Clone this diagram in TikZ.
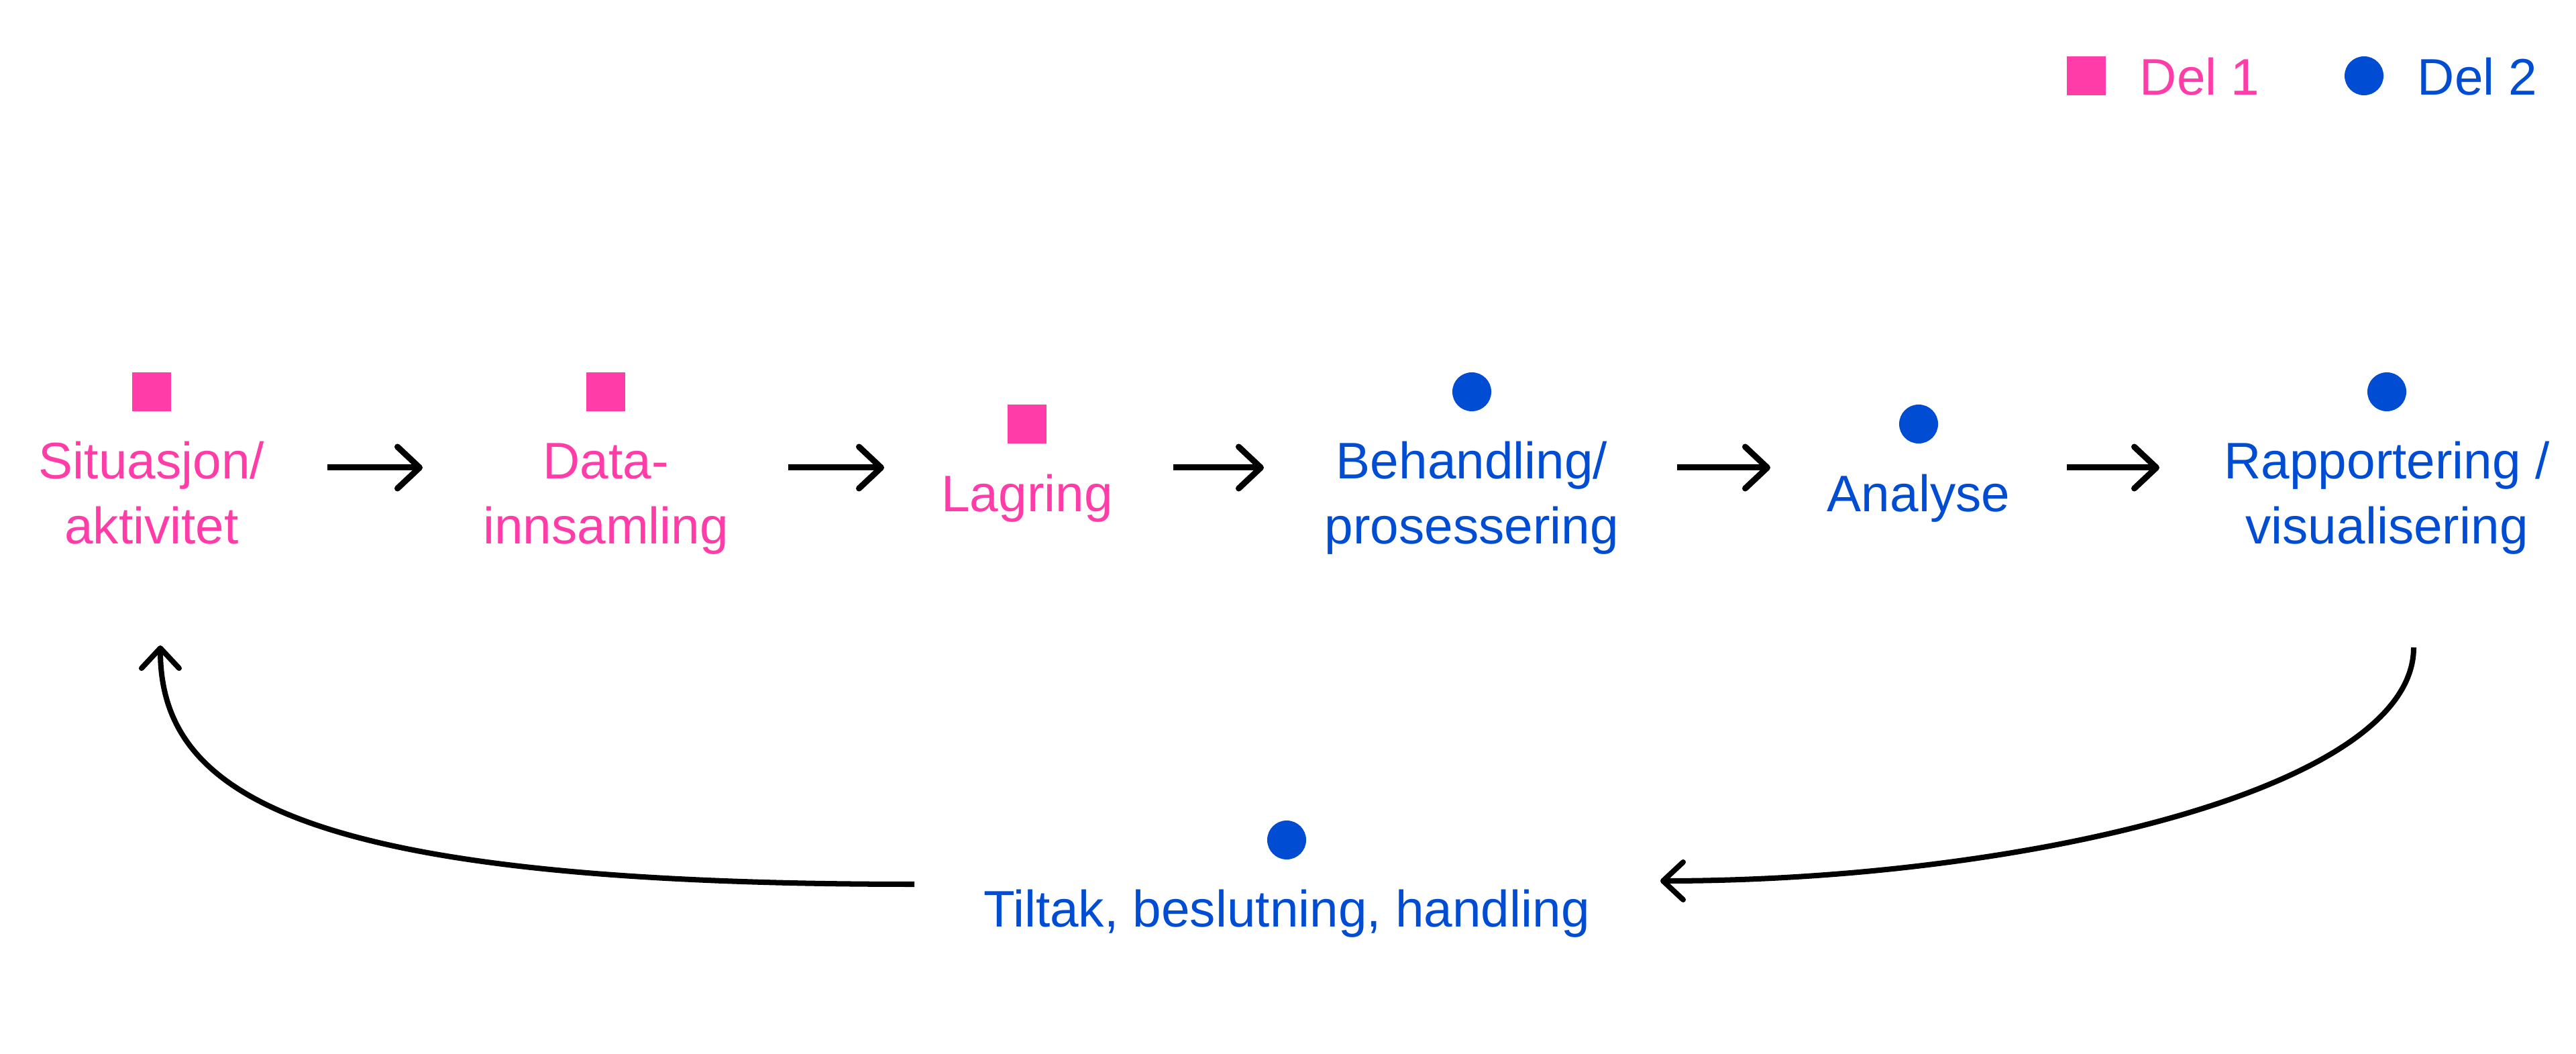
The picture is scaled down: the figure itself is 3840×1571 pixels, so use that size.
\documentclass[tikz,border=0pt]{standalone}
\usepackage{fontspec}
\setmainfont{Liberation Sans}
\usetikzlibrary{arrows.meta}
\definecolor{delpink}{HTML}{FF3CA8}
\definecolor{delblue}{HTML}{004CD3}
\begin{document}
\begin{tikzpicture}[x=0.01cm,y=-0.01cm,
  sq/.style={rectangle,fill=delpink,draw=none,minimum size=0.58cm,inner sep=0pt},
  dot/.style={circle,fill=delblue,draw=none,minimum size=0.58cm,inner sep=0pt},
  lbl/.style={font=\fontsize{21.77}{27.6}\selectfont,align=center,inner sep=0pt,anchor=north},
  pinklbl/.style={lbl,text=delpink},
  bluelbl/.style={lbl,text=delblue},
  legtxt/.style={font=\fontsize{21.77}{27.6}\selectfont,inner sep=0pt,anchor=base west},
  flow/.style={line width=2.56pt,-{Straight Barb[length=0.33cm,width=0.62cm,round]}},
  cycle/.style={line width=2.28pt,-{Straight Barb[length=0.30cm,width=0.56cm,round]}},
]
\useasboundingbox (0,0) rectangle (3840,1571);

% legend
\node[sq] (leg1) at (3110,113) {};
\node[legtxt,text=delpink] (legt1) at (3189,142) {Del 1};
\node[dot] (leg2) at (3524,113) {};
\node[legtxt,text=delblue] (legt2) at (3603,142) {Del 2};

% markers
\node[sq] (m1) at (226,584) {};
\node[sq] (m2) at (903,584) {};
\node[sq] (m3) at (1531,632) {};
\node[dot] (m4) at (2194,584) {};
\node[dot] (m5) at (2860,632) {};
\node[dot] (m6) at (3558,584) {};
\node[dot] (m7) at (1918,1252) {};

% labels
\node[pinklbl] (l1) at (226,645) {\strut Situasjon/\\\strut aktivitet};
\node[pinklbl] (l2) at (903,645) {\strut Data-\\\strut innsamling};
\node[pinklbl] (l3) at (1531,694) {\strut Lagring};
\node[bluelbl] (l4) at (2194,645) {\strut Behandling/\\\strut prosessering};
\node[bluelbl] (l5) at (2860,694) {\strut Analyse};
\node[bluelbl] (l6) at (3558,645) {\strut Rapportering /\\\strut visualisering};
\node[bluelbl] (l7) at (1918,1313) {\strut Tiltak, beslutning, handling};

% flow arrows
\draw[flow] ([shift={(262,52)}]l1.north) -- ([shift={(-273,52)}]l2.north);
\draw[flow] ([shift={(272,52)}]l2.north) -- ([shift={(-213,3)}]l3.north);
\draw[flow] ([shift={(218,3)}]l3.north) -- ([shift={(-310,52)}]l4.north);
\draw[flow] ([shift={(306,52)}]l4.north) -- ([shift={(-221,3)}]l5.north);
\draw[flow] ([shift={(221,3)}]l5.north) -- ([shift={(-339,52)}]l6.north);

% feedback loop
\draw[cycle] ([shift={(40,320)}]l6.north) .. controls (3598,1180) and (3000,1313) .. ([shift={(557,0)}]l7.north);
\draw[cycle] ([shift={(-555,5)}]l7.north) .. controls (460,1318) and (239,1190) .. ([shift={(13,317)}]l1.north);
\end{tikzpicture}
\end{document}
